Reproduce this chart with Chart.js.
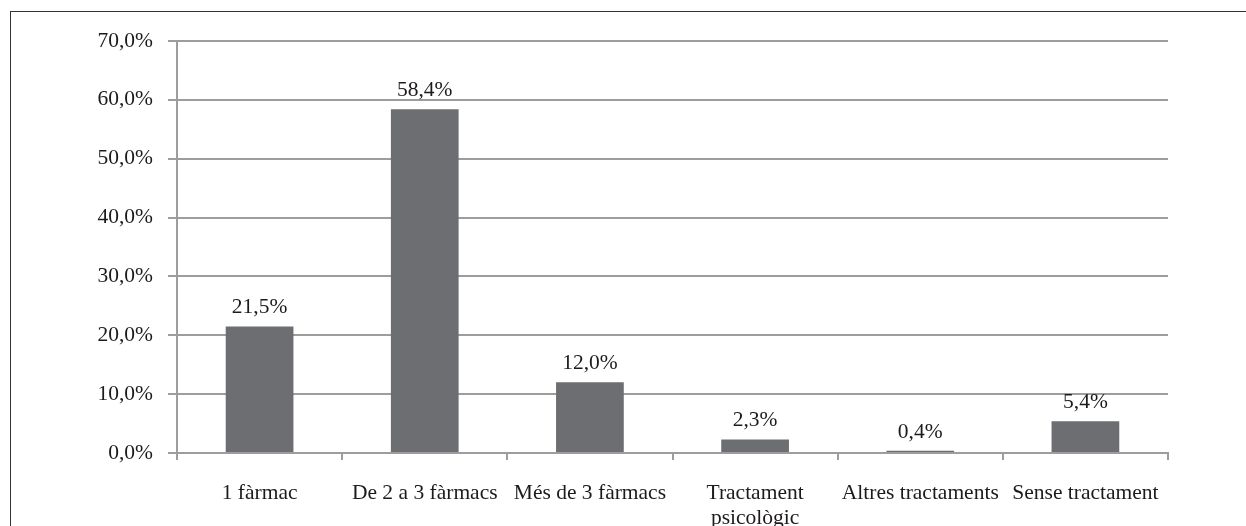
<!DOCTYPE html>
<html>
<head>
<meta charset="utf-8">
<script src="https://cdn.jsdelivr.net/npm/chart.js@4.4.1/dist/chart.umd.min.js"></script>
<style>
  html, body { margin: 0; padding: 0; background: #fff; overflow: hidden; }
  #wrap { position: relative; width: 1246px; height: 526px; }
  #frame {
    position: absolute; left: 10px; top: 11px; width: 1400px; height: 700px;
    border: 1.5px solid #333; pointer-events: none;
  }
</style>
</head>
<body>
<div id="wrap">
  <canvas id="chart" width="1246" height="526"></canvas>
  <div id="frame"></div>
</div>
<script>
// categories and values
var categories = ['1 fàrmac', 'De 2 a 3 fàrmacs', 'Més de 3 fàrmacs', ['Tractament', 'psicològic'], 'Altres tractaments', 'Sense tractament'];
var values = [21.5, 58.4, 12.0, 2.3, 0.4, 5.4];
var yMin = 0, yMax = 70, yStep = 10;

var barColor = '#6d6e71';
var gridColor = '#9d9d9d';
var textColor = '#1e1a1b';
var fontFamily = '"Liberation Serif", "Times New Roman", serif';
var fontSize = 21.5;

function pct(v) {
    return v.toFixed(1).replace('.', ',') + '%';
}

// draw the value above each bar
const valueLabels = {
    id: 'valueLabels',
    afterDatasetsDraw: (chart) => {
        const ctx = chart.ctx;
        const meta = chart.getDatasetMeta(0);
        ctx.save();
        ctx.font = fontSize + 'px ' + fontFamily;
        ctx.fillStyle = textColor;
        ctx.textAlign = 'center';
        ctx.textBaseline = 'alphabetic';
        meta.data.forEach((bar, i) => {
            ctx.fillText(pct(values[i]), bar.x, bar.y - 13);
        });
        ctx.restore();
    }
};

var ctx = document.getElementById('chart').getContext('2d');
var myChart = new Chart(ctx, {
    type: 'bar',
    data: {
        labels: categories,
        datasets: [{
            data: values,
            backgroundColor: barColor,
            borderWidth: 0,
            categoryPercentage: 1,
            barPercentage: 0.41
        }]
    },
    options: {
        responsive: false,
        animation: false,
        layout: { padding: { left: 0, top: 41, right: 78, bottom: 0 } },
        plugins: {
            legend: { display: false },
            tooltip: { enabled: false }
        },
        scales: {
            x: {
                offset: true,
                grid: {
                    display: true,
                    drawOnChartArea: false,
                    drawTicks: true,
                    tickLength: 7,
                    color: gridColor,
                    lineWidth: 2
                },
                border: { color: gridColor, width: 2 },
                ticks: {
                    color: textColor,
                    padding: 20,
                    maxRotation: 0,
                    autoSkip: false,
                    font: { family: fontFamily, size: fontSize, lineHeight: 1.2 }
                },
                afterFit: (s) => { s.height = 73; }
            },
            y: {
                min: yMin,
                max: yMax,
                grid: {
                    color: gridColor,
                    lineWidth: 2,
                    tickLength: 9
                },
                border: { color: gridColor, width: 2 },
                ticks: {
                    stepSize: yStep,
                    color: textColor,
                    padding: 15,
                    font: { family: fontFamily, size: fontSize },
                    callback: (v) => pct(v)
                },
                afterFit: (s) => { s.width = 177; }
            }
        }
    },
    plugins: [valueLabels]
});
</script>
</body>
</html>
